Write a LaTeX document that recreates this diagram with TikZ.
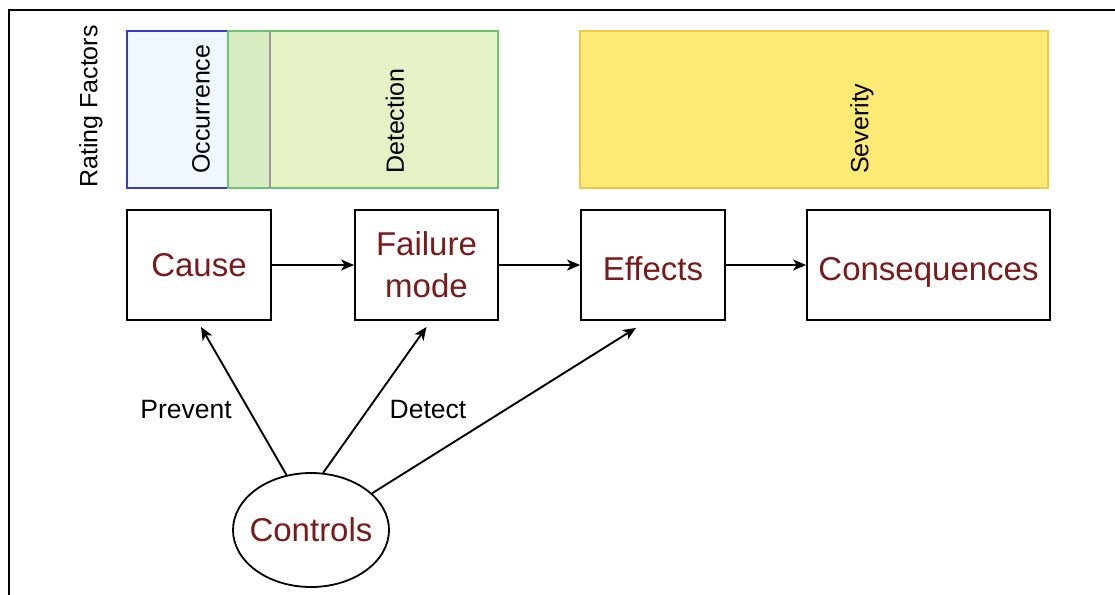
\documentclass[tikz,border=0pt]{standalone}
\usepackage{fontspec}
\setmainfont{Liberation Sans}
\usetikzlibrary{arrows.meta,shapes.geometric}

\definecolor{labelred}{HTML}{7B1A1A}
\definecolor{occfill}{HTML}{F0F7FF}
\definecolor{occdraw}{HTML}{3A3ACC}
\definecolor{detfill}{HTML}{E5F2C6}
\definecolor{detdraw}{HTML}{66C86E}
\definecolor{overlapfill}{HTML}{D8EBC2}
\definecolor{sevfill}{HTML}{FEEA74}
\definecolor{sevdraw}{HTML}{F0C844}

\tikzset{
  stagebox/.style={draw=black, line width=1.8pt, rectangle, inner sep=0pt,
    minimum height=110pt, align=center, text=labelred,
    font=\fontsize{33}{42}\selectfont},
  lowtext/.style={text height=31pt, text depth=0pt},
  factor/.style={rotate=90, anchor=west, inner sep=0pt,
    font=\fontsize{25}{28}\selectfont},
  link/.style={line width=1.9pt, -{Stealth[length=13pt,width=11pt,inset=3.5pt]}},
  ctrltag/.style={font=\fontsize{26.5}{30}\selectfont}
}

\begin{document}
\begin{tikzpicture}[x=1pt,y=-1pt]
  \useasboundingbox (0,0) rectangle (1115,594);
  \clip (0,0) rectangle (1115,594);
  \fill[white] (0,0) rectangle (1115,594);

  % outer frame, running off the right and bottom edges
  \draw[line width=2.4pt] (1130,10) -- (9,10) -- (9,610);

  % rating factor bands
  \fill[occfill] (127,31) rectangle (228,188);
  \fill[overlapfill] (228,31) rectangle (270,188);
  \fill[detfill] (270,31) rectangle (498,188);
  \draw[occdraw, line width=1.4pt] (228,31) -- (127,31) -- (127,188) -- (228,188);
  \draw[detdraw, line width=1.4pt] (228,31) rectangle (498,188);
  \draw[gray!80, line width=1.4pt] (270,31) -- (270,188);
  \draw[sevdraw, fill=sevfill, line width=1.4pt] (580,31) rectangle (1048,188);

  \node[factor] (rf)  at (91,188)  {Rating Factors};
  \node[factor] (occ) at (201,174) {Occurrence};
  \node[factor] (det) at (395,174) {Detection};
  \node[factor] (sev) at (862,174) {Severity};

  % process chain
  \node[stagebox, minimum width=144pt] (cause) at (199,265)   {Cause};
  \node[stagebox, minimum width=143pt] (fail)  at (426.5,265) {Failure\\[0pt]mode};
  \node[stagebox, lowtext, minimum width=144pt] (eff)  at (653,265)   {Effects};
  \node[stagebox, lowtext, minimum width=243pt] (cons) at (928.5,265) {Consequences};

  \draw[link] (cause.east) -- (fail.west);
  \draw[link] (fail.east) -- (eff.west);
  \draw[link] (eff.east) -- (cons.west);

  % controls
  \node[ellipse, draw=black, line width=1.8pt, minimum width=156pt,
        minimum height=114pt, inner xsep=-14pt, inner ysep=0pt, text=labelred,
        font=\fontsize{33}{40}\selectfont] (ctrl) at (311,530) {Controls};

  \coordinate (tcause) at ([xshift=2pt,yshift=-6pt]cause.south);
  \coordinate (tfail)  at ([yshift=-6pt]fail.south);
  \coordinate (teff)   at ([xshift=-17pt,yshift=-7pt]eff.south);

  \draw[link] (ctrl.114) -- (tcause);
  \draw[link] (ctrl.78)  -- (tfail);
  \draw[link] (ctrl.31)  -- (teff);

  \node[ctrltag] (prev) at (186,410) {Prevent};
  \node[ctrltag] (detc) at (428,410) {Detect};
\end{tikzpicture}
\end{document}
